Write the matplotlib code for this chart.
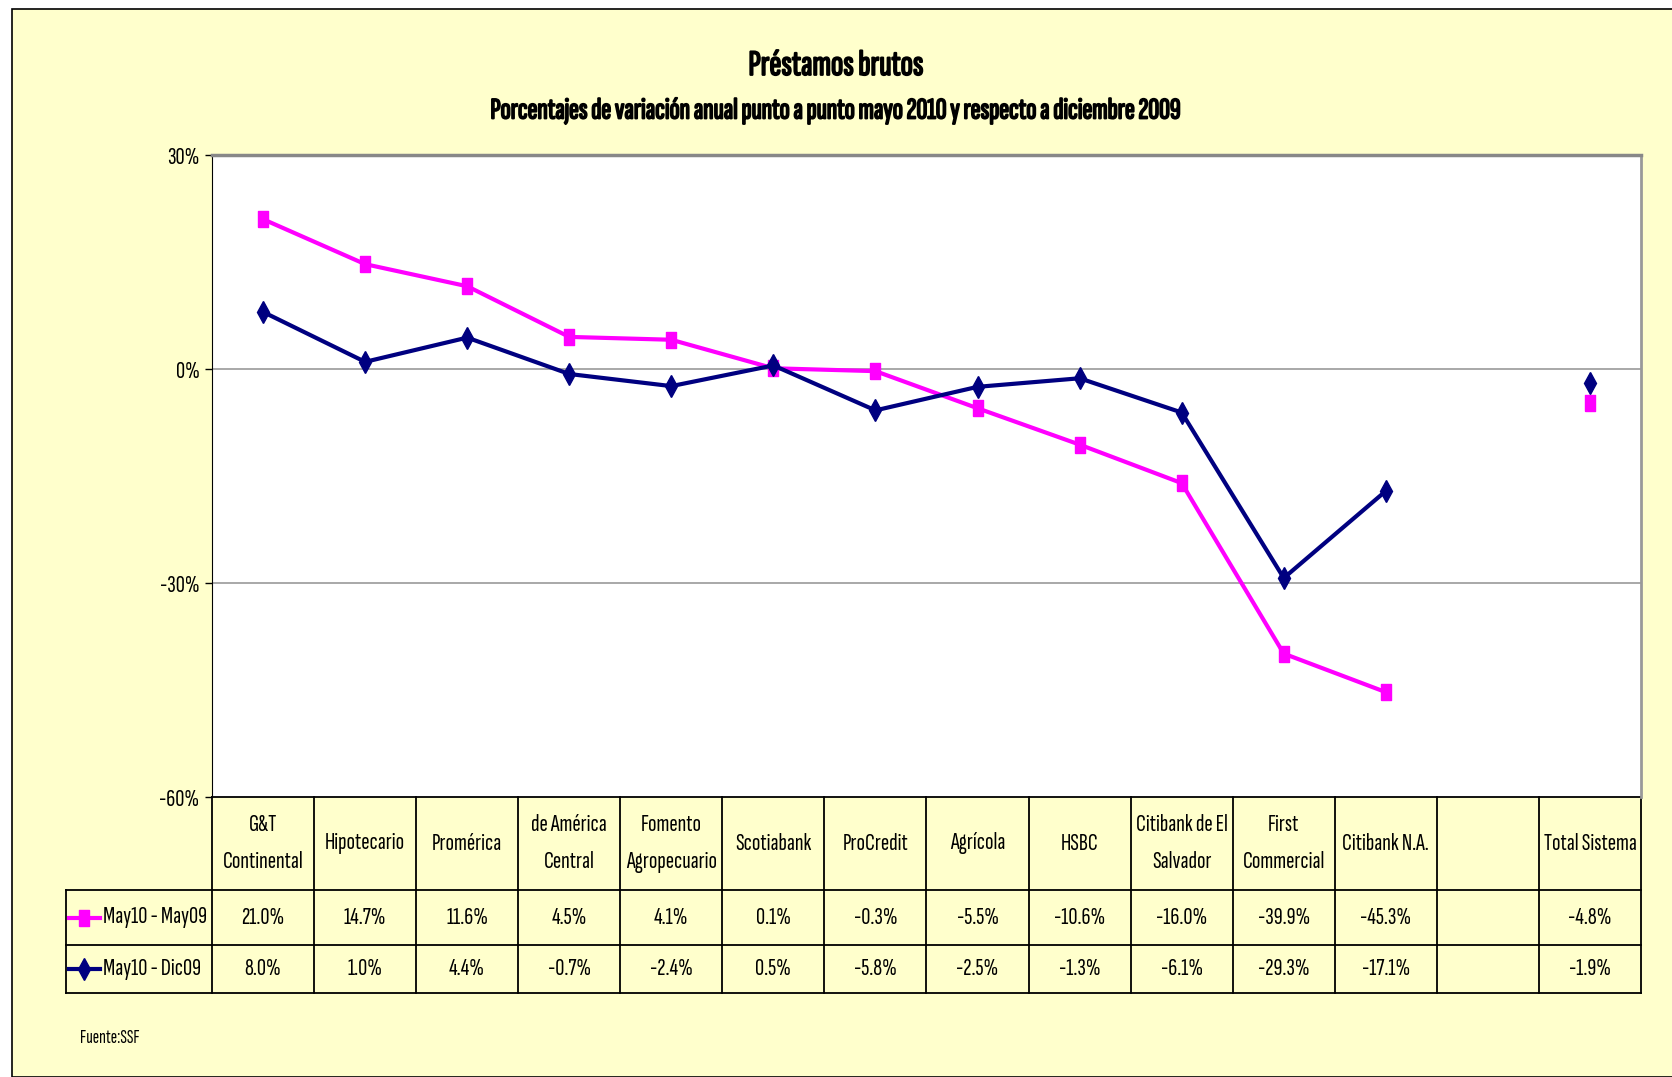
import numpy as np
import matplotlib.pyplot as plt
import matplotlib.patheffects as pe
from matplotlib.patches import Rectangle
from matplotlib.lines import Line2D

plt.rcParams['font.family'] = ['Sofia Sans Extra Condensed', 'Liberation Sans', 'DejaVu Sans']

bancos = ['G&T\nContinental', 'Hipotecario', 'Promérica', 'de América\nCentral',
          'Fomento\nAgropecuario', 'Scotiabank', 'ProCredit', 'Agrícola', 'HSBC',
          'Citibank de El\nSalvador', 'First\nCommercial', 'Citibank N.A.', '',
          'Total Sistema']
may_may = [21.0, 14.7, 11.6, 4.5, 4.1, 0.1, -0.3, -5.5, -10.6, -16.0, -39.9, -45.3,
           np.nan, -4.8]
may_dic = [8.0, 1.0, 4.4, -0.7, -2.4, 0.5, -5.8, -2.5, -1.3, -6.1, -29.3, -17.1,
           np.nan, -1.9]
series = ['May10 - May09', 'May10 - Dic09']
yticks = [30, 0, -30, -60]

W, H = 1672, 1077
amarillo = '#FFFFCC'
magenta = '#FF00FF'
navy = '#000080'
rect = [(-0.55, -1), (0.55, -1), (0.55, 1), (-0.55, 1), (-0.55, -1)]
negrita = [pe.withStroke(linewidth=1.3, foreground='black')]

fig = plt.figure(figsize=(W / 100, H / 100), dpi=100, facecolor='white')

# fondo amarillo y marco
fig.patches.append(Rectangle((12 / W, 0), 1, 1 - 9 / H, transform=fig.transFigure,
                             facecolor=amarillo, edgecolor='black', linewidth=1.2,
                             zorder=-5))

# area del grafico (en pixeles)
left, right, top, bottom = 212, 1641, 155, 797
ax = fig.add_axes([left / W, 1 - bottom / H, (right - left) / W, (bottom - top) / H])
ax.set_facecolor('white')

x = np.arange(len(bancos))
ax.plot(x, may_may, color=magenta, lw=3, marker=rect, ms=12, mec=magenta,
        mfc=magenta, label=series[0], zorder=3)
ax.plot(x, may_dic, color=navy, lw=3, marker='d', ms=11, mec=navy,
        mfc=navy, label=series[1], zorder=3)

ax.set_xlim(-0.5, len(bancos) - 0.5)
ax.set_ylim(-60, 30)
ax.set_yticks(yticks)
ax.set_yticklabels([f'{t}%' for t in yticks], fontsize=18)
ax.set_xticks([])
ax.tick_params(axis='y', direction='out', length=5, width=1, pad=4)
for y in [0, -30]:
    ax.axhline(y, color='#999999', lw=1.2, zorder=1)
ax.spines['left'].set_color('black')
ax.spines['top'].set_color('#888888')
ax.spines['top'].set_linewidth(2.5)
ax.spines['right'].set_color('#999999')
ax.spines['right'].set_linewidth(2)
ax.spines['bottom'].set_visible(False)

# tabla de datos
ph = bottom - top
row_y = [0, -(890 - bottom) / ph, -(945 - bottom) / ph, -(993 - bottom) / ph]
tr = ax.get_xaxis_transform()
x0 = -0.5 - (left - 66) / ((right - left) / len(bancos))
xe = len(bancos) - 0.5
kw = dict(transform=tr, clip_on=False, color='black', lw=1.3)

ax.add_line(Line2D([-0.5, xe], [0, 0], **kw))
for yy in row_y[1:]:
    ax.add_line(Line2D([x0, xe], [yy, yy], **kw))
for xb in np.arange(-0.5, xe + 0.01, 1):
    ax.add_line(Line2D([xb, xb], [0, row_y[3]], **kw))
ax.add_line(Line2D([x0, x0], [row_y[1], row_y[3]], **kw))

for i, b in enumerate(bancos):
    ax.text(i, (row_y[0] + row_y[1]) / 2, b, transform=tr, ha='center', va='center',
            fontsize=18, linespacing=1.9)
    for vals, r in [(may_may, 1), (may_dic, 2)]:
        v = vals[i]
        if not np.isnan(v):
            ax.text(i, (row_y[r] + row_y[r + 1]) / 2, f'{v:.1f}%', transform=tr,
                    ha='center', va='center', fontsize=18)

# claves de leyenda en la tabla
for r, (name, col, mk, ms) in enumerate([(series[0], magenta, rect, 12),
                                           (series[1], navy, 'd', 11)], start=1):
    yc = (row_y[r] + row_y[r + 1]) / 2
    ax.add_line(Line2D([x0 + 0.03, x0 + 0.18, x0 + 0.33], [yc, yc, yc], transform=tr,
                       clip_on=False, color=col, lw=3, marker=mk, ms=ms,
                       markevery=[1], mfc=col, mec=col))
    ax.text(x0 + 0.36, yc, name, transform=tr, ha='left', va='center', fontsize=18)

fig.text(0.5, 1 - 66 / H, 'Préstamos brutos', ha='center', va='center',
         fontsize=26, fontweight='bold', path_effects=negrita)
fig.text(0.5, 1 - 111 / H, 'Porcentajes de variación anual punto a punto mayo 2010 '
         'y respecto a diciembre 2009', ha='center', va='center', fontsize=21.5,
         fontweight='bold', path_effects=negrita)
fig.text(80 / W, 1 - 1038 / H, 'Fuente:SSF', ha='left', va='center', fontsize=14)

fig.savefig('out.png', dpi=100, facecolor=fig.get_facecolor())
